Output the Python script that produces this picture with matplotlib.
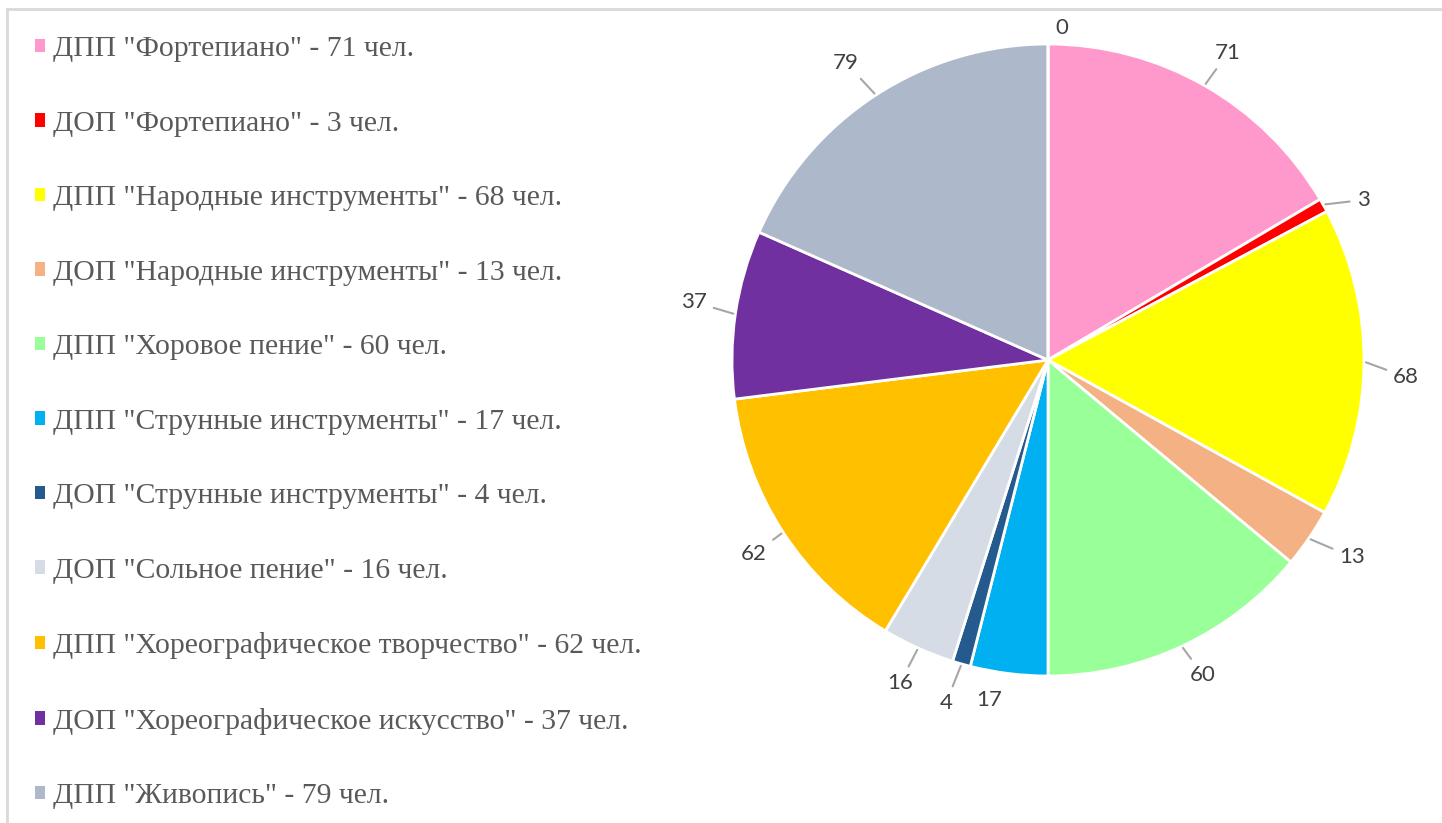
import matplotlib.pyplot as plt
from matplotlib.patches import Patch
from matplotlib.lines import Line2D
import numpy as np

# data
names = [
    'ДПП "Фортепиано" - 71 чел.',
    'ДОП "Фортепиано" - 3 чел.',
    'ДПП "Народные инструменты" - 68 чел.',
    'ДОП "Народные инструменты" - 13 чел.',
    'ДПП "Хоровое пение" - 60 чел.',
    'ДПП "Струнные инструменты" - 17 чел.',
    'ДОП "Струнные инструменты" - 4 чел.',
    'ДОП "Сольное пение" - 16 чел.',
    'ДПП "Хореографическое творчество" - 62 чел.',
    'ДОП "Хореографическое искусство" - 37 чел.',
    'ДПП "Живопись" - 79 чел.',
]
values = [71, 3, 68, 13, 60, 17, 4, 16, 62, 37, 79, 0]
colors = ['#FF99CC', '#FF0000', '#FFFF00', '#F4B183', '#99FF99', '#00B0F0',
          '#245A8D', '#D6DCE5', '#FFC000', '#7030A0', '#ADB9CA', '#5B9BD5']

# where the value labels sit (pixels relative to the pie centre), and leader or not
label_pos = [(180, 307), (315, 160), (358, -17), (304, -197), (155, -315),
             (-59, -340), (-102, -343), (-148, -323), (-294, -194),
             (-354, 58), (-202, 297), (14, 332)]
leader = [True, True, True, True, True, False, True, True, True, True, True, False]

W, H = 1442, 823
fig = plt.figure(figsize=(W / 100, H / 100), dpi=100)

# pie axes: 1 data unit = 1 pixel, centre at (1048, 360) from top-left
cx, cy, R = 1048, 360, 316
ax = fig.add_axes([(cx - 400) / W, (H - cy - 400) / H, 800 / W, 800 / H])
wedges, _ = ax.pie(values, colors=colors, startangle=90, counterclock=False,
                   radius=R, wedgeprops=dict(edgecolor='white', linewidth=2))
ax.set_xlim(-400, 400)
ax.set_ylim(-400, 400)
ax.set_aspect('equal')
ax.axis('off')

total = float(sum(values))
cum = np.cumsum([0] + values)
for i, v in enumerate(values):
    mid = (cum[i] + v / 2.0) / total * 2 * np.pi
    ex, ey = (R + 2) * np.sin(mid), (R + 2) * np.cos(mid)
    tx, ty = label_pos[i]
    if leader[i]:
        ax.annotate(str(v), xy=(ex, ey), xytext=(tx, ty), ha='center', va='center',
                    fontsize=16, color='#404040', family='Lato',
                    arrowprops=dict(arrowstyle='-', color='#A6A6A6', lw=1.5,
                                    shrinkA=3, shrinkB=0))
    else:
        ax.text(tx, ty, str(v), ha='center', va='center', fontsize=16,
                color='#404040', family='Lato')

handles = [Patch(facecolor=c, edgecolor='none') for c in colors[:len(names)]]
fig.legend(handles=handles, labels=names, loc='upper left',
           bbox_to_anchor=(35 / W, 1 - 36 / H), frameon=False,
           prop=dict(family='Liberation Serif', size=21.3), labelcolor='#595959',
           handlelength=0.33, handleheight=0.33, handletextpad=0.27,
           labelspacing=1.64, borderaxespad=0, borderpad=0)

# light frame (top and left edges are visible)
fig.add_artist(Line2D([7 / W, 1], [1 - 9 / H, 1 - 9 / H], color='#D9D9D9', lw=2))
fig.add_artist(Line2D([7 / W, 7 / W], [0, 1 - 9 / H], color='#D9D9D9', lw=2))

fig.savefig('out.png', dpi=100, facecolor='white')
